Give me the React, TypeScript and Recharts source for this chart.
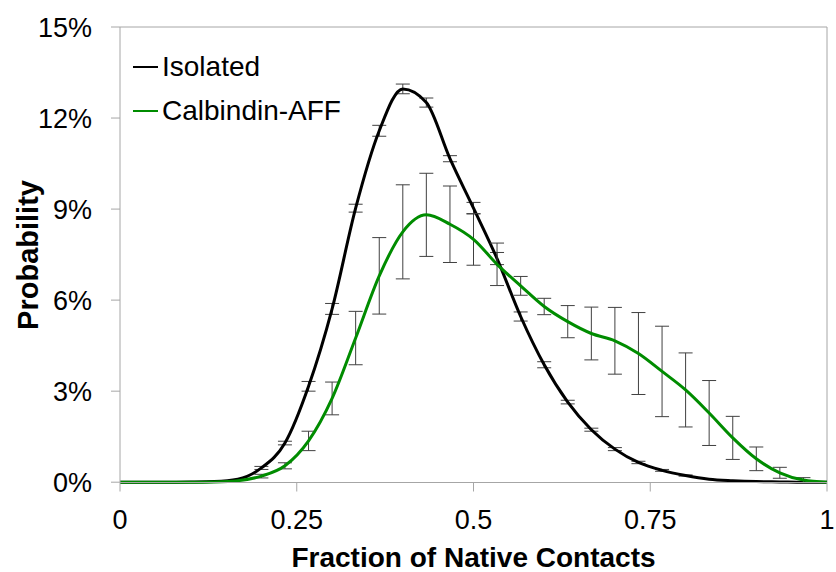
import { LineChart, Line, XAxis, YAxis, ErrorBar, ReferenceLine, Legend } from 'recharts';

// bins of the native-contact fraction (1/30 steps)
const fractions = [
  0, 0.0333, 0.0667, 0.1, 0.1333, 0.1667, 0.2, 0.2333, 0.2667, 0.3, 0.3333, 0.3667, 0.4, 0.4333, 0.4667, 0.5,
  0.5333, 0.5667, 0.6, 0.6333, 0.6667, 0.7, 0.7333, 0.7667, 0.8, 0.8333, 0.8667, 0.9, 0.9333, 0.9667, 1,
];

// probabilities in %
const isolated = [
  0, 0, 0, 0.005, 0.02, 0.1, 0.47, 1.29, 3.16, 5.71, 9.03, 11.58, 12.96, 12.51, 10.66, 9.03, 7.37, 5.46, 3.87, 2.64,
  1.73, 1.09, 0.65, 0.39, 0.22, 0.1, 0.05, 0.02, 0.01, 0, 0,
];
const isolatedErr = [
  null, null, null, null, null, null, 0.05, 0.06, 0.16, 0.18, 0.13, 0.18, 0.16, 0.15, 0.1, 0.19, 0.2, 0.15, 0.1, 0.06,
  0.05, 0.05, 0.04, 0.03, 0.02, null, null, null, null, null, null,
];
const calbindin = [
  0, 0, 0, 0, 0.01, 0.05, 0.2, 0.54, 1.36, 2.76, 4.75, 6.8, 8.25, 8.81, 8.5, 8.0, 7.18, 6.47, 5.79, 5.29, 4.9, 4.66,
  4.24, 3.65, 3.04, 2.28, 1.46, 0.77, 0.31, 0.07, 0,
];
const calbindinErr = [
  null, null, null, null, null, null, 0.06, 0.1, 0.32, 0.54, 0.88, 1.26, 1.55, 1.37, 1.26, 0.85, 0.7, 0.31, 0.27, 0.53,
  0.87, 1.1, 1.35, 1.49, 1.22, 1.07, 0.71, 0.39, 0.18, 0.08, null,
];

const seriesNames = ['Isolated', 'Calbindin-AFF'];
const xTicks = [0, 0.25, 0.5, 0.75, 1];
const yTicks = [0, 3, 6, 9, 12, 15];

const FONT = '"Liberation Sans", Arial, sans-serif';
const AXIS = '#a6a6a6';

const data = fractions.map((f, i) => ({
  f,
  isolated: isolated[i],
  isolatedErr: isolatedErr[i],
  calbindin: calbindin[i],
  calbindinErr: calbindinErr[i],
}));

function LegendBox({ payload }: any) {
  const items = [...(payload || [])].sort(
    (a: any, b: any) => seriesNames.indexOf(a.value) - seriesNames.indexOf(b.value)
  );
  return (
    <div style={{ fontFamily: FONT, fontSize: 28, color: '#000' }}>
      {items.map((p: any) => (
        <div key={p.value} style={{ display: 'flex', alignItems: 'center', height: 44 }}>
          <span style={{ display: 'inline-block', width: 25, height: 2, background: p.color, marginRight: 4 }} />
          <span>{p.value}</span>
        </div>
      ))}
    </div>
  );
}

export default function App() {
  return (
    <div style={{ width: 836, height: 572 }}>
      <style>{'body{margin:0}'}</style>
      <LineChart width={836} height={572} data={data} margin={{ top: 27, right: 9, bottom: 0, left: 0 }}>
        <XAxis
          dataKey="f"
          type="number"
          domain={[0, 1]}
          ticks={xTicks}
          tickFormatter={(v: number) => String(v)}
          height={89.5}
          stroke={AXIS}
          tickSize={9}
          tickMargin={18}
          tick={{ fill: '#000', fontSize: 27, fontFamily: FONT }}
          label={{
            value: 'Fraction of Native Contacts',
            position: 'insideBottom',
            offset: 5,
            fill: '#000',
            fontSize: 28,
            fontWeight: 'bold',
            fontFamily: FONT,
          }}
        />
        <YAxis
          type="number"
          domain={[0, 15]}
          ticks={yTicks}
          tickFormatter={(v: number) => `${v}%`}
          width={120}
          stroke={AXIS}
          tickSize={9}
          tickMargin={19}
          tick={{ fill: '#000', fontSize: 27, fontFamily: FONT }}
          label={{
            content: () => (
              <text
                transform="translate(38 255) rotate(-90)"
                textAnchor="middle"
                fill="#000"
                fontSize={29}
                fontWeight="bold"
                fontFamily={FONT}
              >
                Probability
              </text>
            ),
          }}
        />
        <ReferenceLine y={15} stroke={AXIS} />
        <ReferenceLine x={1} stroke={AXIS} />
        <Legend
          layout="vertical"
          align="center"
          verticalAlign="middle"
          content={<LegendBox />}
          wrapperStyle={{ left: 133, top: 45, width: 300 }}
        />
        <Line
          name="Isolated"
          dataKey="isolated"
          type="monotone"
          stroke="#000000"
          strokeWidth={3}
          dot={false}
          isAnimationActive={false}
        >
          <ErrorBar dataKey="isolatedErr" width={7} stroke="#404040" strokeWidth={1} direction="y" />
        </Line>
        <Line
          name="Calbindin-AFF"
          dataKey="calbindin"
          type="monotone"
          stroke="#008c00"
          strokeWidth={3}
          dot={false}
          isAnimationActive={false}
        >
          <ErrorBar dataKey="calbindinErr" width={7} stroke="#404040" strokeWidth={1} direction="y" />
        </Line>
      </LineChart>
    </div>
  );
}
